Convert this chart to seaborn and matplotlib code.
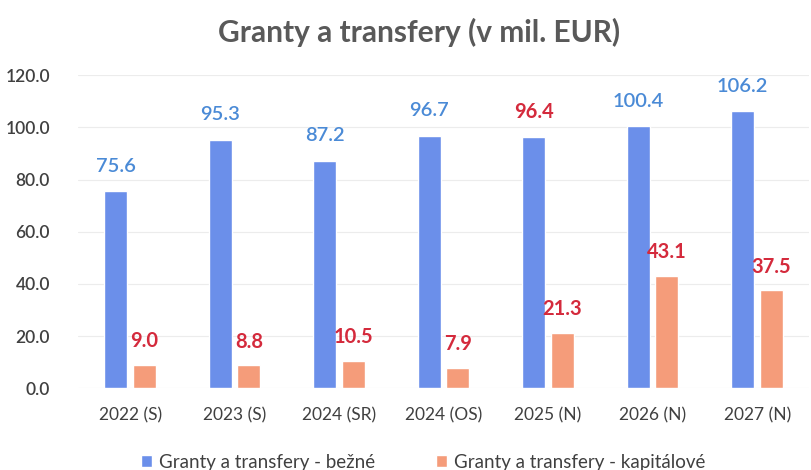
import pandas as pd
import matplotlib
matplotlib.use('Agg')
import matplotlib.pyplot as plt
import seaborn as sns

# Data
years = ['2022 (S)', '2023 (S)', '2024 (SR)', '2024 (OS)', '2025 (N)', '2026 (N)', '2027 (N)']
bezne = [75.6, 95.3, 87.2, 96.7, 96.4, 100.4, 106.2]
kapitalove = [9.0, 8.8, 10.5, 7.9, 21.3, 43.1, 37.5]
series_names = ['Granty a transfery - bežné', 'Granty a transfery - kapitálové']

BLUE = '#6b8fea'
ORANGE = '#f59c7a'
LBL_BLUE = '#4a8ad6'
LBL_RED = '#d42a3c'

df = pd.DataFrame({
    'rok': years * 2,
    'hodnota': bezne + kapitalove,
    'typ': [series_names[0]] * len(years) + [series_names[1]] * len(years),
})

sns.set_style('white')
plt.rcParams['font.family'] = ['Lato', 'DejaVu Sans']

fig = plt.figure(figsize=(8.11, 4.70), dpi=100)
ax = fig.add_axes([0.096, 0.174, 0.902, 0.666])

sns.barplot(data=df, x='rok', y='hodnota', hue='typ', palette=[BLUE, ORANGE],
            width=0.55, gap=0.2, saturation=1, ax=ax, legend=True)

ax.set_ylim(0, 120)
ax.set_yticks(range(0, 121, 20))
ax.set_yticklabels([f'{v:.1f}' for v in range(0, 121, 20)])
ax.yaxis.grid(True, color='#ececec', linewidth=0.8)
ax.set_axisbelow(True)
for s in ax.spines.values():
    s.set_visible(False)
ax.set_xlabel('')
ax.set_ylabel('')
ax.tick_params(axis='y', labelsize=12.5, colors='#404040', length=0, pad=20)
ax.tick_params(axis='x', labelsize=12.5, colors='#404040', length=0, pad=14)
for t in ax.get_yticklabels():
    t.set_fontweight('semibold')

# value labels
blue_bars, orange_bars = ax.containers[0], ax.containers[1]
for i, (bar, v) in enumerate(zip(blue_bars, bezne)):
    red = (i == 4)
    ax.annotate(f'{v:.1f}', (bar.get_x() + bar.get_width() / 2, v),
                xytext=(0, 18), textcoords='offset points', ha='center', va='center',
                fontsize=14.5, color=LBL_RED if red else LBL_BLUE,
                fontweight='bold' if red else 'semibold')
for bar, v in zip(orange_bars, kapitalove):
    ax.annotate(f'{v:.1f}', (bar.get_x() + bar.get_width() / 2, v),
                xytext=(0, 17), textcoords='offset points', ha='center', va='center',
                fontsize=14.5, color=LBL_RED, fontweight='bold')

fig.suptitle('Granty a transfery (v mil. EUR)', x=0.517, y=0.93, va='center',
             fontsize=21.5, color='#595959', fontweight='bold')

ax.legend(loc='center', bbox_to_anchor=(0.472, -0.236), ncol=2, frameon=False,
          fontsize=13.5, handlelength=0.6, handleheight=0.6, columnspacing=3.2,
          handletextpad=0.4, labelcolor='#404040')

fig.savefig('out.png', dpi=100)
